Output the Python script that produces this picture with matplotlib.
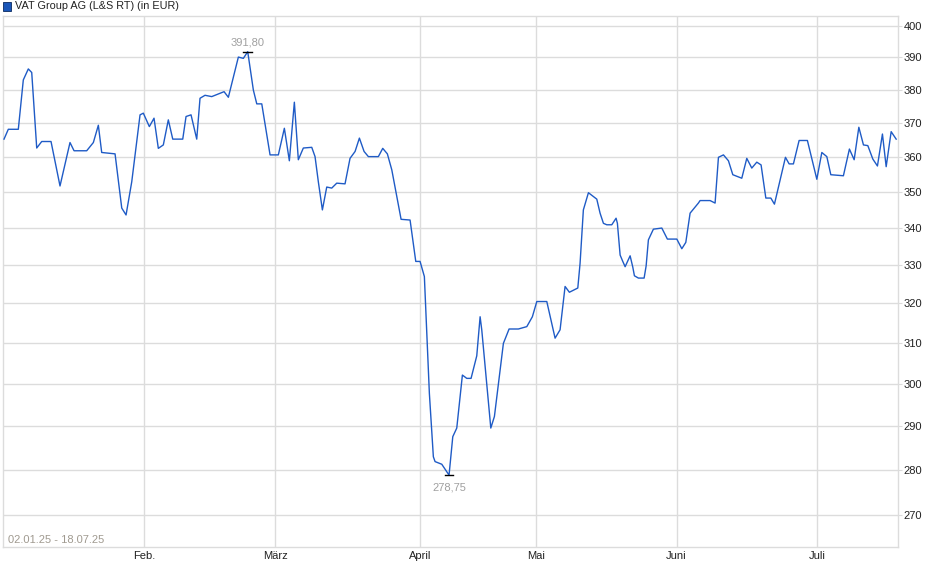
import numpy as np
import matplotlib
matplotlib.use("Agg")
import matplotlib.pyplot as plt
from matplotlib.ticker import FixedLocator, NullLocator

# ---- data (x = trading-session index) ----
sessions = [
    0.0, 0.68, 2.26, 3.05, 3.84, 4.38, 5.17, 5.96, 7.43, 8.85,
    10.43, 11.07, 13.07, 14.12, 14.91, 15.44, 17.55, 18.61, 19.29, 20.19,
    21.50, 22.02, 22.97, 23.71, 24.39, 25.18, 25.97, 26.67, 28.25, 28.77,
    29.56, 30.46, 30.98, 31.77, 32.83, 34.78, 35.46, 37.04, 37.83, 38.52,
    39.41, 39.95, 40.74, 42.05, 43.36, 44.31, 45.10, 45.89, 46.52, 47.31,
    48.64, 49.16, 49.68, 50.32, 51.01, 51.80, 52.59, 53.90, 54.69, 55.49,
    56.17, 56.91, 57.59, 59.17, 59.86, 60.59, 61.29, 62.08, 62.76, 64.18,
    65.08, 65.76, 66.44, 66.71, 67.23, 67.86, 68.13, 69.19, 70.34, 70.93,
    71.56, 72.45, 73.14, 73.82, 74.72, 75.25, 75.51, 76.94, 77.51, 78.93,
    79.83, 81.30, 82.63, 83.51, 84.21, 85.79, 87.10, 87.89, 88.68, 89.36,
    90.69, 91.05, 91.57, 92.37, 93.69, 94.21, 94.74, 95.27, 96.06, 96.74,
    96.95, 97.38, 97.80, 98.17, 98.96, 99.38, 99.64, 100.27, 101.17, 101.49,
    101.85, 102.64, 103.97, 104.85, 106.34, 107.13, 107.76, 108.44, 109.75, 110.02,
    111.60, 112.39, 112.92, 113.71, 114.50, 115.19, 116.61, 117.40, 118.19, 118.98,
    119.66, 120.41, 121.20, 121.77, 123.51, 124.09, 124.77, 125.67, 126.98, 128.47,
    129.26, 130.05, 130.68, 132.67, 133.62, 134.37, 135.11, 135.84, 136.53, 137.32,
    138.05, 138.84, 139.43, 140.22, 141.01,
]
prices = [
    365.2, 368.1, 368.1, 383.0, 386.4, 385.3, 362.6, 364.5, 364.5, 351.7,
    364.2, 361.8, 361.8, 364.2, 369.3, 361.3, 360.9, 345.5, 343.6, 352.9,
    372.4, 372.9, 368.9, 371.4, 362.5, 363.5, 370.9, 365.2, 365.2, 371.9,
    372.4, 365.2, 377.4, 378.3, 377.9, 379.4, 377.7, 390.1, 389.7, 391.8,
    379.9, 375.7, 375.7, 360.6, 360.6, 368.4, 358.9, 376.2, 359.2, 362.6,
    362.8, 360.1, 352.9, 345.0, 351.4, 351.1, 352.5, 352.3, 359.6, 361.6,
    365.5, 361.6, 360.1, 360.1, 362.5, 360.9, 356.3, 348.7, 342.4, 342.2,
    331.0, 331.0, 327.0, 316.6, 297.7, 282.9, 281.8, 281.2, 278.75, 287.5,
    289.5, 302.1, 301.3, 301.3, 306.8, 316.6, 313.3, 289.5, 292.2, 309.9,
    313.5, 313.5, 314.1, 316.6, 320.5, 320.5, 311.2, 313.3, 324.4, 322.9,
    324.0, 330.5, 345.0, 349.8, 348.0, 344.1, 341.3, 340.9, 340.9, 342.7,
    341.3, 332.7, 331.0, 329.6, 332.5, 329.5, 327.2, 326.6, 326.6, 329.8,
    336.8, 339.7, 340.0, 337.0, 337.0, 334.4, 336.1, 344.1, 346.9, 347.6,
    347.6, 346.9, 359.9, 360.6, 358.9, 354.9, 353.9, 359.6, 356.8, 358.5,
    357.7, 348.3, 348.3, 346.6, 359.9, 358.0, 358.0, 364.8, 364.8, 353.6,
    361.3, 360.1, 354.9, 354.6, 362.3, 359.2, 368.7, 363.5, 363.3, 359.4,
    357.4, 366.7, 357.2, 367.4, 365.2,
]

y_ticks = [270, 280, 290, 300, 310, 320, 330, 340, 350, 360, 370, 380, 390, 400]
month_pos = [22.18, 42.9, 65.8, 84.1, 106.3, 128.5]
month_labels = ["Feb.", "März", "April", "Mai", "Juni", "Juli"]

title = "VAT Group AG (L&S RT) (in EUR)"
period = "02.01.25 - 18.07.25"

LINE = "#1f5bc6"
GRID = "#dcdcdc"

plt.rcParams["font.family"] = ["Liberation Sans", "DejaVu Sans"]

fig = plt.figure(figsize=(9.4, 5.79), dpi=100)
ax = fig.add_axes([3 / 940, 32 / 579, 895 / 940, 531 / 579])

ax.set_yscale("log")
ax.set_xlim(-0.16, 141.3)
ax.set_ylim(263.1, 403.2)

ax.plot(sessions, prices, color=LINE, linewidth=1.0, zorder=3)

# grid / frame
ax.yaxis.set_major_locator(FixedLocator(y_ticks))
ax.yaxis.set_minor_locator(NullLocator())
ax.set_yticklabels([str(t) for t in y_ticks])
ax.xaxis.set_major_locator(FixedLocator(month_pos))
ax.xaxis.set_minor_locator(NullLocator())
ax.set_xticklabels(month_labels)
ax.grid(True, color=GRID, linewidth=1.0, zorder=0)
for sp in ax.spines.values():
    sp.set_color(GRID)
    sp.set_linewidth(1.0)

ax.yaxis.tick_right()
ax.tick_params(axis="y", which="both", length=3, color=GRID, pad=1,
               labelsize=8, labelcolor="#222222")
ax.tick_params(axis="x", which="both", length=0, pad=3,
               labelsize=8, labelcolor="#222222")

# max / min markers
i_max = int(np.argmax(prices))
i_min = int(np.argmin(prices))
for i, dy, va in [(i_max, 3, "bottom"), (i_min, -5, "top")]:
    x, y = sessions[i], prices[i]
    ax.plot([x - 0.7, x + 0.7], [y, y], color="black", linewidth=1.0,
            zorder=4)
    ax.annotate(f"{y:.2f}".replace(".", ","), (x, y),
                xytext=(0, dy), textcoords="offset points",
                ha="center", va=va, fontsize=8, color="#a0a0a0")

ax.text(0.006, 0.004, period, transform=ax.transAxes, fontsize=8,
        color="#a09a90", ha="left", va="bottom")

# legend-like header
fig.patches.append(plt.Rectangle((3 / 940, 1 - 11 / 579), 8 / 940, 9 / 579,
                                 transform=fig.transFigure,
                                 facecolor="#1a56b8", edgecolor="#0a2a60",
                                 linewidth=0.6))
fig.text(15 / 940, 1 - 6 / 579, title, fontsize=7.8, color="#222222",
         ha="left", va="center")

fig.savefig("out.png", dpi=100)
